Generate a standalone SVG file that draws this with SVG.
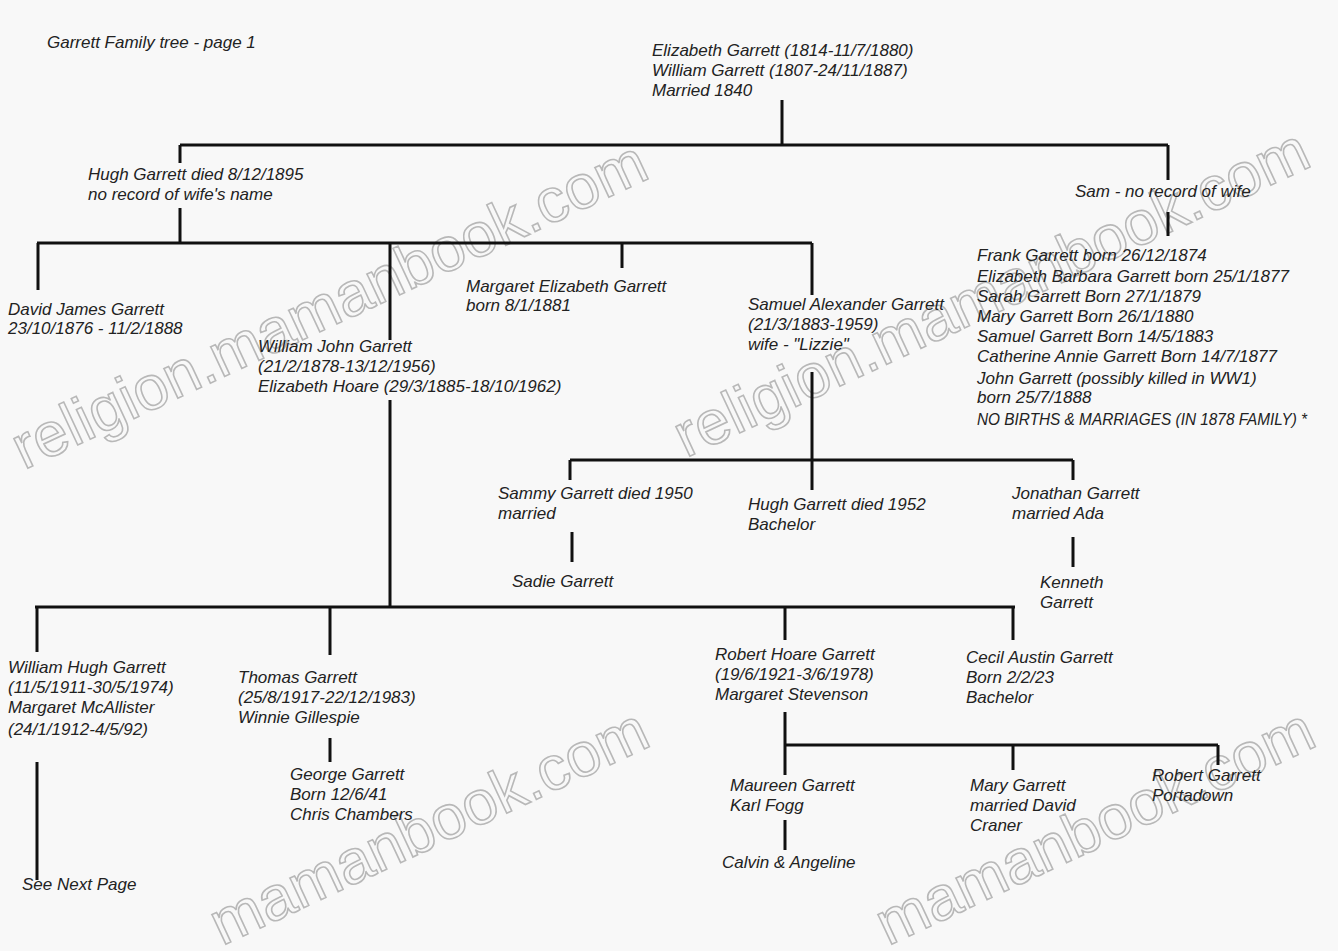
<svg xmlns="http://www.w3.org/2000/svg" width="1338" height="951" viewBox="0 0 1338 951">
<style>
.t{font-family:"Liberation Sans",Arial,sans-serif;font-style:italic;font-size:17px;fill:#222}
.w{font-family:"Liberation Sans",Arial,sans-serif;font-size:62px;fill:none;stroke:#b8b8b8;stroke-width:1.6}
.c line{stroke:#111;stroke-width:3}
</style>
<rect width="1338" height="951" fill="#f8f8f8"/>
<g id="watermarks">
<text class="w" transform="translate(24,470) rotate(-25)">religion.mamanbook.com</text>
<text class="w" transform="translate(686,458) rotate(-25)">religion.mamanbook.com</text>
<text class="w" transform="translate(222,946) rotate(-25)">mamanbook.com</text>
<text class="w" transform="translate(888,946) rotate(-25)">mamanbook.com</text>
</g>
<g class="c" id="connectors">
<line x1="782" y1="100" x2="782" y2="145"/>
<line x1="180" y1="145" x2="1168" y2="145"/>
<line x1="180" y1="145" x2="180" y2="163"/>
<line x1="1168" y1="145" x2="1168" y2="180"/>
<line x1="1168" y1="212" x2="1168" y2="236"/>
<line x1="180" y1="208" x2="180" y2="243"/>
<line x1="37" y1="243" x2="812" y2="243"/>
<line x1="38" y1="243" x2="38" y2="290"/>
<line x1="390" y1="243" x2="390" y2="340"/>
<line x1="622" y1="243" x2="622" y2="268"/>
<line x1="812" y1="243" x2="812" y2="295"/>
<line x1="812" y1="372" x2="812" y2="460"/>
<line x1="570" y1="460" x2="1073" y2="460"/>
<line x1="570" y1="460" x2="570" y2="480"/>
<line x1="812" y1="460" x2="812" y2="490"/>
<line x1="1073" y1="460" x2="1073" y2="480"/>
<line x1="572" y1="532" x2="572" y2="562"/>
<line x1="1073" y1="537" x2="1073" y2="567"/>
<line x1="390" y1="400" x2="390" y2="607"/>
<line x1="35" y1="607" x2="1015" y2="607"/>
<line x1="37" y1="607" x2="37" y2="652"/>
<line x1="330" y1="607" x2="330" y2="655"/>
<line x1="785" y1="607" x2="785" y2="640"/>
<line x1="1013" y1="607" x2="1013" y2="640"/>
<line x1="37" y1="762" x2="37" y2="880"/>
<line x1="330" y1="738" x2="330" y2="762"/>
<line x1="785" y1="712" x2="785" y2="775"/>
<line x1="785" y1="745" x2="1218" y2="745"/>
<line x1="1013" y1="745" x2="1013" y2="770"/>
<line x1="1218" y1="745" x2="1218" y2="765"/>
<line x1="785" y1="820" x2="785" y2="850"/>
</g>
<g id="title"><text class="t" x="47" y="48">Garrett Family tree - page 1</text></g>
<g id="n-elizabeth-william"><text class="t" x="652" y="56">Elizabeth Garrett (1814-11/7/1880)</text><text class="t" x="652" y="76">William Garrett (1807-24/11/1887)</text><text class="t" x="652" y="96">Married 1840</text></g>
<g id="n-hugh"><text class="t" x="88" y="180">Hugh Garrett died 8/12/1895</text><text class="t" x="88" y="200">no record of wife's name</text></g>
<g id="n-sam"><text class="t" x="1075" y="197">Sam - no record of wife</text></g>
<g id="n-sam-children">
<text class="t" x="977" y="261">Frank Garrett born 26/12/1874</text>
<text class="t" x="977" y="282">Elizabeth Barbara Garrett born 25/1/1877</text>
<text class="t" x="977" y="302">Sarah Garrett Born 27/1/1879</text>
<text class="t" x="977" y="322">Mary Garrett Born 26/1/1880</text>
<text class="t" x="977" y="342">Samuel Garrett Born 14/5/1883</text>
<text class="t" x="977" y="362">Catherine Annie Garrett Born 14/7/1877</text>
<text class="t" x="977" y="384">John Garrett (possibly killed in WW1)</text>
<text class="t" x="977" y="403">born 25/7/1888</text>
<text class="t" x="977" y="425" textLength="330" lengthAdjust="spacingAndGlyphs">NO BIRTHS &amp; MARRIAGES (IN 1878 FAMILY) *</text>
</g>
<g id="n-david"><text class="t" x="8" y="315">David James Garrett</text><text class="t" x="8" y="334">23/10/1876 - 11/2/1888</text></g>
<g id="n-william-john"><text class="t" x="258" y="352">William John Garrett</text><text class="t" x="258" y="372">(21/2/1878-13/12/1956)</text><text class="t" x="258" y="392">Elizabeth Hoare (29/3/1885-18/10/1962)</text></g>
<g id="n-margaret"><text class="t" x="466" y="292">Margaret Elizabeth Garrett</text><text class="t" x="466" y="311">born 8/1/1881</text></g>
<g id="n-samuel"><text class="t" x="748" y="310">Samuel Alexander Garrett</text><text class="t" x="748" y="330">(21/3/1883-1959)</text><text class="t" x="748" y="350">wife - "Lizzie"</text></g>
<g id="n-sammy"><text class="t" x="498" y="499">Sammy Garrett died 1950</text><text class="t" x="498" y="519">married</text></g>
<g id="n-hugh1952"><text class="t" x="748" y="510">Hugh Garrett died 1952</text><text class="t" x="748" y="530">Bachelor</text></g>
<g id="n-jonathan"><text class="t" x="1012" y="499">Jonathan Garrett</text><text class="t" x="1012" y="519">married Ada</text></g>
<g id="n-sadie"><text class="t" x="512" y="587">Sadie Garrett</text></g>
<g id="n-kenneth"><text class="t" x="1040" y="588">Kenneth</text><text class="t" x="1040" y="608">Garrett</text></g>
<g id="n-william-hugh"><text class="t" x="8" y="673">William Hugh Garrett</text><text class="t" x="8" y="693">(11/5/1911-30/5/1974)</text><text class="t" x="8" y="713">Margaret McAllister</text><text class="t" x="8" y="735">(24/1/1912-4/5/92)</text></g>
<g id="n-thomas"><text class="t" x="238" y="683">Thomas Garrett</text><text class="t" x="238" y="703">(25/8/1917-22/12/1983)</text><text class="t" x="238" y="723">Winnie Gillespie</text></g>
<g id="n-george"><text class="t" x="290" y="780">George Garrett</text><text class="t" x="290" y="800">Born 12/6/41</text><text class="t" x="290" y="820">Chris Chambers</text></g>
<g id="n-robert-hoare"><text class="t" x="715" y="660">Robert Hoare Garrett</text><text class="t" x="715" y="680">(19/6/1921-3/6/1978)</text><text class="t" x="715" y="700">Margaret Stevenson</text></g>
<g id="n-cecil"><text class="t" x="966" y="663">Cecil Austin Garrett</text><text class="t" x="966" y="683">Born 2/2/23</text><text class="t" x="966" y="703">Bachelor</text></g>
<g id="n-maureen"><text class="t" x="730" y="791">Maureen Garrett</text><text class="t" x="730" y="811">Karl Fogg</text></g>
<g id="n-mary"><text class="t" x="970" y="791">Mary Garrett</text><text class="t" x="970" y="811">married David</text><text class="t" x="970" y="831">Craner</text></g>
<g id="n-robert"><text class="t" x="1152" y="781">Robert Garrett</text><text class="t" x="1152" y="801">Portadown</text></g>
<g id="n-calvin"><text class="t" x="722" y="868">Calvin &amp; Angeline</text></g>
<g id="n-next"><text class="t" x="22" y="890">See Next Page</text></g>
</svg>
